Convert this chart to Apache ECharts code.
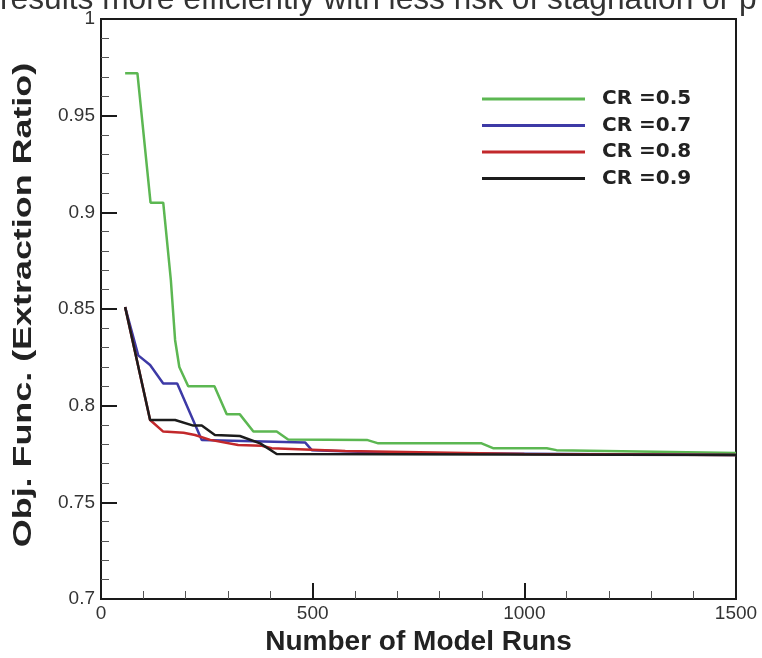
<!DOCTYPE html>
<html>
<head>
<meta charset="utf-8">
<script src="https://cdn.jsdelivr.net/npm/echarts@6/dist/echarts.min.js"></script>
<style>html,body{margin:0;padding:0;background:#fff;}#c{width:762px;height:658px;}</style>
</head>
<body>
<div id="c"></div>
<script>
var seriesNames = ['CR =0.5', 'CR =0.7', 'CR =0.8', 'CR =0.9'];
var greenX = [57, 86, 117, 147, 165, 175, 185, 206, 268, 297, 328, 360, 415, 442, 628, 655, 899, 926, 1053, 1076, 1500];
var greenY = [0.972, 0.972, 0.905, 0.905, 0.865, 0.834, 0.820, 0.810, 0.810, 0.7955, 0.7955, 0.7866, 0.7866, 0.7825, 0.7823, 0.7805, 0.7805, 0.778, 0.778, 0.777, 0.7755];
var blueX = [57, 88, 116, 147, 180, 238, 482, 498, 700, 1500];
var blueY = [0.851, 0.826, 0.821, 0.8115, 0.8115, 0.7823, 0.781, 0.777, 0.7755, 0.7745];
var redX = [57, 116, 147, 195, 222, 258, 324, 380, 403, 577, 1000, 1500];
var redY = [0.851, 0.7926, 0.7866, 0.786, 0.7848, 0.7823, 0.7797, 0.7793, 0.778, 0.7765, 0.775, 0.7745];
var blackX = [57, 116, 175, 218, 238, 269, 328, 376, 415, 1500];
var blackY = [0.851, 0.7926, 0.7926, 0.7897, 0.7897, 0.7848, 0.7843, 0.7805, 0.775, 0.7745];
var xTicks = [0, 500, 1000, 1500];
var yTicks = [0.7, 0.75, 0.8, 0.85, 0.9, 0.95, 1];
var colors = ['#5cb752', '#3d3aa6', '#c2282b', '#1c1c1c'];

function pairs(xs, ys) { return xs.map(function (x, i) { return [x, ys[i]]; }); }
var allX = [greenX, blueX, redX, blackX];
var allY = [greenY, blueY, redY, blackY];

var FONT = '"Liberation Sans", Arial, sans-serif';
var LEGFONT = '"DejaVu Sans", "Liberation Sans", sans-serif';
var legendTops = [89, 115.5, 142, 168.5];

var chart = echarts.init(document.getElementById('c'), null, {renderer: 'canvas'});
chart.setOption({
  animation: false,
  backgroundColor: '#fff',
  grid: {left: 101, right: 26, top: 19, bottom: 59, containLabel: false, outerBoundsMode: 'none',
         show: true, borderColor: '#1a1a1a', borderWidth: 2, backgroundColor: 'transparent'},
  graphic: [{
    type: 'text', x: 0, y: 0, silent: true,
    style: {text: 'results more efficiently with less risk of stagnation or p', font: '31.7px ' + FONT, fill: '#333', verticalAlign: 'middle', align: 'left'}
  }, {
    type: 'text', x: 24, y: 305, rotation: Math.PI / 2, scaleX: 1.38, silent: true,
    style: {text: 'Obj. Func. (Extraction Ratio)', font: 'bold 26px ' + FONT, fill: '#222', align: 'center', verticalAlign: 'middle'}
  }],
  legend: seriesNames.map(function (n, i) {
    return {
      data: [n], left: 482, top: legendTops[i], padding: 0, icon: 'rect',
      itemWidth: 103, itemHeight: 3,
      textStyle: {fontFamily: LEGFONT, fontSize: 20, fontWeight: 'bold', color: '#222', lineHeight: 20, padding: [0, 0, 0, 12]}
    };
  }),
  xAxis: {
    type: 'value', min: 0, max: 1500, interval: 500,
    axisLine: {show: true, lineStyle: {color: '#1a1a1a', width: 2}},
    axisTick: {show: true, inside: true, length: 16, lineStyle: {color: '#1a1a1a', width: 2}},
    minorTick: {show: true, splitNumber: 5, length: 8, lineStyle: {color: '#555', width: 1}},
    splitLine: {show: false},
    axisLabel: {
      fontFamily: FONT, fontSize: 19, color: '#333', margin: 5,
      formatter: function (v) { return xTicks.indexOf(v) >= 0 ? String(v) : ''; }
    },
    name: 'Number of Model Runs', nameLocation: 'middle', nameGap: 27,
    nameTextStyle: {fontFamily: FONT, fontSize: 28, fontWeight: 'bold', color: '#222'}
  },
  yAxis: {
    type: 'value', min: 0.7, max: 1, interval: 0.05,
    axisLine: {show: true, lineStyle: {color: '#1a1a1a', width: 2}},
    axisTick: {show: true, inside: true, length: 16, lineStyle: {color: '#1a1a1a', width: 2}},
    minorTick: {show: true, splitNumber: 5, length: 8, lineStyle: {color: '#555', width: 1}},
    splitLine: {show: false},
    axisLabel: {
      fontFamily: FONT, fontSize: 19, color: '#333', margin: 6,
      formatter: function (v) {
        for (var i = 0; i < yTicks.length; i++) { if (Math.abs(yTicks[i] - v) < 1e-9) return String(yTicks[i]); }
        return '';
      }
    }
  },
  series: seriesNames.map(function (n, i) {
    return {
      name: n, type: 'line', symbol: 'none', z: 2 + i,
      data: pairs(allX[i], allY[i]),
      itemStyle: {color: colors[i]},
      lineStyle: {color: colors[i], width: 2.5}
    };
  })
});
</script>
</body>
</html>
